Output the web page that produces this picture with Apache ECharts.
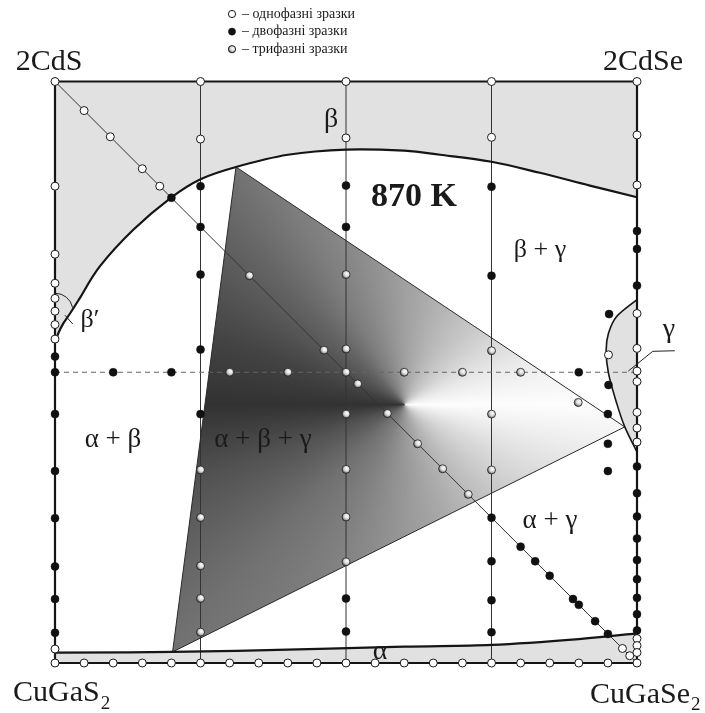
<!DOCTYPE html>
<html>
<head>
<meta charset="utf-8">
<script src="https://cdn.jsdelivr.net/npm/echarts@6/dist/echarts.min.js"></script>
<style>
html,body{margin:0;padding:0;background:#fff}
#chart{width:705px;height:713px}
</style>
</head>
<body>
<div id="chart"></div>
<script>
// Isothermal section 2CdS – 2CdSe – CuGaSe2 – CuGaS2 at 870 K.
// x: % along the S → Se direction, y: % along CuGaX2 → 2CdX direction.

// sample compositions
const onePhase = [
  [0,100],[0,82.0],[0,70.3],[0,65.3],[0,62.7],[0,60.5],[0,58.2],[0,55.7],[0,2.4],[0,0],
  [25,100],[50,100],[75,100],[100,100],
  [5,0],[10,0],[15,0],[20,0],[25,0],[30,0],[35,0],[40,0],[45,0],[50,0],
  [55,0],[60,0],[65,0],[70,0],[75,0],[80,0],[85,0],[90,0],[95,0],[100,0],
  [100,90.8],[100,82.2],[100,60.1],[100,54.1],[100,50.2],[100,48.4],[100,43.1],[100,40.4],[100,38.0],
  [100,4.2],[100,3.0],[100,1.8],
  [5,95],[9.5,90.5],[15,85],[18,82],[97.5,2.5],[98.75,1.25],
  [25,90.1],[50,90.3],[75,90.4],[95.1,53.0]
];
const twoPhase = [
  [0,52.7],[0,50],[0,42.8],[0,33.0],[0,24.9],[0,16.6],[0,11.0],[0,5.2],
  [10,50],[20,50],[90,50],
  [20,80],[80,20],[82.5,17.5],[85,15],[89,11],[90,10],[92.8,7.2],[95,5],
  [25,82],[25,75],[25,66.8],[25,53.9],[25,42.8],
  [50,82.1],[50,75],[50,11.1],[50,5.4],
  [75,81.9],[75,66.6],[75,25],[75,17.5],[75,10.8],[75,5.3],
  [95.2,60],[95.1,47.8],[95,42.8],[95,37.7],[95,33.0],
  [100,74.3],[100,71.2],[100,64.9],[100,33.8],[100,29.2],[100,25.2],[100,21.4],
  [100,17.7],[100,14.4],[100,11.2],[100,8.4],[100,5.6]
];
const threePhase = [
  [30,50],[40,50],[50,50],[60,50],[70,50],[80,50],
  [33.4,66.6],[46.2,53.8],[52,48],[57.1,42.9],[62.3,37.7],[66.6,33.4],[71,29],
  [25,33.2],[25,25.0],[25,16.7],[25,11.1],[25,5.3],
  [50,66.8],[50,54],[50,42.8],[50,33.3],[50,25.1],[50,17.4],
  [75,53.7],[75,42.8],[75,33.2],
  [89.9,44.8]
];

// phase boundaries
const betaBoundary = [[0,55],[0.57,56.7],[1.43,58.4],[2.58,60.1],[4.3,62.8],[7.7,68.2],
  [13.45,74.5],[19.9,80],[25,83.2],[31.1,85.3],[40,87.4],[50,88.3],[60,88.1],[66.2,87.4],
  [75,86.2],[83.3,84.3],[91.9,82.1],[100,80.1]];
const gammaBoundary = [[100,62.5],[96.5,59.6],[95.1,56.7],[94.7,53.8],[95.1,49.8],
  [96.5,44.7],[97.9,40.6],[100,36.3]];
const alphaBoundary = [[0,1.8],[20.2,1.9],[40,2.3],[60,2.8],[75,3.1],[90,4.1],[100,5.1]];
const tieTriangle = [[31.1,85.3],[97.9,40.6],[20.2,1.9]];
const shadeCentre = [60,44.5];

// section lines
const sectionX = [25,50,75];
const diagonal = [[0,100],[100,0]];
const midSection = [[0,50],[100,50]];
const frame = [[0,0],[0,100],[100,100],[100,0],[0,0]];

// label helpers for the β′ and γ fields
const betaPrimeArcCentre = [0,60.5];
const betaPrimeTick = [[1.72,59.8],[3.05,58.3]];
const gammaLeader = [[106.5,53.7],[102.7,53.6],[98.5,50.2]];

const SERIF = '"Liberation Serif","Times New Roman",serif';
const INK = '#151515';
const FIELD = '#e1e1e1';

// grey levels of the three-phase field, by angle (deg, clockwise from +x)
const shadeStops = [[0,253],[20,228],[45,198],[70,170],[90,152],[115,128],[135,112],
  [160,82],[180,50],[200,68],[225,100],[240,124],[270,160],[315,204],[340,234],[360,253]];

function shadeAt(a){
  for (let i=1;i<shadeStops.length;i++){
    const s0=shadeStops[i-1], s1=shadeStops[i];
    if (a<=s1[0]){ const t=(a-s0[0])/(s1[0]-s0[0]); return s0[1]+(s1[1]-s0[1])*t; }
  }
  return shadeStops[shadeStops.length-1][1];
}
let shadeCanvas=null;
function shadeImage(cx,cy){
  if (shadeCanvas) return shadeCanvas;
  const w=705,h=713;
  const c=document.createElement('canvas'); c.width=w; c.height=h;
  const ctx=c.getContext('2d');
  const img=ctx.createImageData(w,h);
  for (let y=0;y<h;y++) for (let x=0;x<w;x++){
    let a=Math.atan2(y-cy,x-cx)*180/Math.PI; if (a<0) a+=360;
    const v=Math.round(shadeAt(a)); const i=(y*w+x)*4;
    img.data[i]=v; img.data[i+1]=v; img.data[i+2]=v; img.data[i+3]=255;
  }
  ctx.putImageData(img,0,0);
  shadeCanvas=c; return c;
}

// Catmull-Rom curve through pixel points, as SVG path commands (without the initial move)
function curveThrough(p){
  let d='';
  for (let i=0;i<p.length-1;i++){
    const p0=p[i-1]||p[i], p1=p[i], p2=p[i+1], p3=p[i+2]||p[i+1];
    const c1=[p1[0]+(p2[0]-p0[0])/6, p1[1]+(p2[1]-p0[1])/6];
    const c2=[p2[0]-(p3[0]-p1[0])/6, p2[1]-(p3[1]-p1[1])/6];
    d+=' C'+c1[0]+' '+c1[1]+' '+c2[0]+' '+c2[1]+' '+p2[0]+' '+p2[1];
  }
  return d;
}
const M=p=>'M'+p[0]+' '+p[1];
const L=p=>' L'+p[0]+' '+p[1];

function renderFields(params, api){
  const px=q=>api.coord(q);
  const b=betaBoundary.map(px), g=gammaBoundary.map(px), a=alphaBoundary.map(px);
  const betaPath=M(b[0])+curveThrough(b)+L(px([100,100]))+L(px([0,100]))+' Z';
  const gammaPath=M(g[0])+curveThrough(g)+' Z';
  const alphaPath=M(a[0])+curveThrough(a)+L(px([100,0]))+L(px([0,0]))+' Z';
  const c=px(shadeCentre);
  return {type:'group', children:[
    {type:'path', shape:{pathData:betaPath}, style:{fill:FIELD}},
    {type:'path', shape:{pathData:gammaPath}, style:{fill:FIELD}},
    {type:'path', shape:{pathData:alphaPath}, style:{fill:FIELD}},
    {type:'polygon', shape:{points:tieTriangle.map(px)},
      style:{fill:{image:shadeImage(c[0],c[1]), repeat:'no-repeat'}}}
  ]};
}

function renderBoundaries(params, api){
  const px=q=>api.coord(q);
  const b=betaBoundary.map(px), g=gammaBoundary.map(px), a=alphaBoundary.map(px);
  const ac=px(betaPrimeArcCentre);
  return {type:'group', children:[
    {type:'polygon', shape:{points:tieTriangle.map(px)}, style:{fill:null, stroke:'#2a2a2a', lineWidth:1}},
    {type:'path', shape:{pathData:M(b[0])+curveThrough(b)}, style:{fill:null, stroke:INK, lineWidth:2.2}},
    {type:'path', shape:{pathData:M(g[0])+curveThrough(g)}, style:{fill:null, stroke:INK, lineWidth:1.6}},
    {type:'path', shape:{pathData:M(a[0])+curveThrough(a)}, style:{fill:null, stroke:INK, lineWidth:2.2}},
    {type:'arc', shape:{cx:ac[0], cy:ac[1], r:18, startAngle:-Math.PI/2, endAngle:-0.2, clockwise:true},
      style:{fill:null, stroke:'#222', lineWidth:1}},
    {type:'polyline', shape:{points:betaPrimeTick.map(px)}, style:{fill:null, stroke:'#222', lineWidth:1}},
    {type:'polyline', shape:{points:gammaLeader.map(px)}, style:{fill:null, stroke:'#222', lineWidth:1}}
  ]};
}

function lineSeries(data, style){
  return {type:'line', data, z:2, clip:false, silent:true, showSymbol:false, symbol:'none',
    lineStyle:style, animation:false};
}

const threeFill = {type:'radial', x:0.6, y:0.4, r:0.7, colorStops:[
  {offset:0,color:'#ffffff'},{offset:0.45,color:'#d4d4d4'},{offset:1,color:'#1e1e1e'}]};

const series = [
  {type:'custom', z:1, silent:true, clip:false, data:[0], renderItem:renderFields},
  lineSeries(frame, {color:INK, width:2.2}),
  ...sectionX.map(x=>lineSeries([[x,0],[x,100]], {color:'#333', width:1})),
  lineSeries(diagonal, {color:'#333', width:1}),
  lineSeries(midSection, {color:'#666', width:1, type:[5,4]}),
  {type:'custom', z:3, silent:true, clip:false, data:[0], renderItem:renderBoundaries},
  {type:'scatter', z:4, clip:false, silent:true, data:onePhase, symbol:'circle', symbolSize:8,
    itemStyle:{color:'#fff', borderColor:'#1a1a1a', borderWidth:1, opacity:1}},
  {type:'scatter', z:4, clip:false, silent:true, data:twoPhase, symbol:'circle', symbolSize:8,
    itemStyle:{color:'#111', borderColor:'#111', borderWidth:0.5, opacity:1}},
  {type:'scatter', z:4, clip:false, silent:true, data:threePhase, symbol:'circle', symbolSize:8,
    itemStyle:{color:threeFill, borderColor:'#222', borderWidth:0.8, opacity:1}}
];

function label(text, x, y, size, opts){
  return Object.assign({type:'text', x, y, silent:true, z:10, style:{
    text, font:(opts&&opts.bold?'bold ':'')+size+'px '+SERIF, fill:'#1a1a1a',
    textAlign:(opts&&opts.align)||'center', align:(opts&&opts.align)||'center',
    textVerticalAlign:'middle', verticalAlign:'middle'}});
}
function textWidth(text, size){
  const ctx=document.createElement('canvas').getContext('2d');
  ctx.font=size+'px '+SERIF; return ctx.measureText(text).width;
}

const legendRows = [
  {kind:'one', text:'– однофазні зразки'},
  {kind:'two', text:'– двофазні зразки'},
  {kind:'three', text:'– трифазні зразки'}
];
const legendGraphics = [];
legendRows.forEach((row,i)=>{
  const y=14+i*17.6;
  const fill=row.kind==='one'?'#fff':row.kind==='two'?'#111':threeFill;
  legendGraphics.push({type:'circle', shape:{cx:232, cy:y, r:3.6}, silent:true, z:10,
    style:{fill, stroke:'#1a1a1a', lineWidth:row.kind==='two'?0.5:1}});
  legendGraphics.push(label(row.text, 242, y, 14, {align:'left'}));
});

const cornerLeftW = textWidth('CuGaS',30);
const cornerRightW = textWidth('CuGaSe',30);

const graphics = [
  ...legendGraphics,
  label('2CdS', 49, 62, 30),
  label('2CdSe', 643, 62, 30),
  label('CuGaS', 13, 693, 30, {align:'left'}),
  label('2', 13+cornerLeftW+1, 704, 19, {align:'left'}),
  label('CuGaSe', 590, 695, 30, {align:'left'}),
  label('2', 590+cornerRightW+1, 705, 19, {align:'left'}),
  label('870 K', 414, 197, 34, {bold:true}),
  label('β', 331, 120, 28),
  label('β + γ', 540, 250, 26),
  label('β′', 90, 320, 26),
  label('γ', 669, 330, 28),
  label('α + β', 113, 440, 27),
  label('α + β + γ', 263, 440, 27),
  label('α + γ', 550, 521, 27),
  label('α', 380, 652, 28)
];

const chart = echarts.init(document.getElementById('chart'), null, {renderer:'canvas'});
chart.setOption({
  animation:false,
  backgroundColor:'#fff',
  grid:{left:55, top:81.5, width:582, height:581.5},
  xAxis:{type:'value', min:0, max:100, show:false},
  yAxis:{type:'value', min:0, max:100, show:false},
  series,
  graphic:graphics
});
</script>
</body>
</html>
